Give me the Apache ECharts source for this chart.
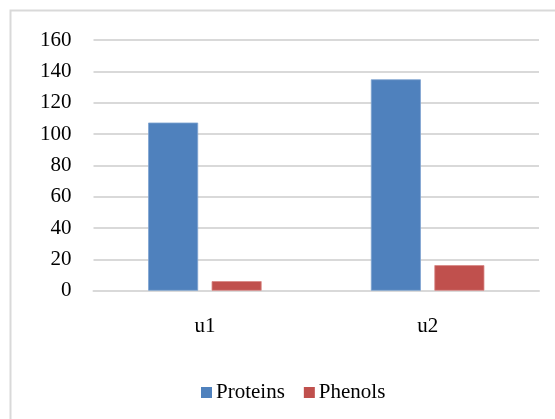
<!DOCTYPE html>
<html>
<head>
<meta charset="utf-8">
<script src="https://cdn.jsdelivr.net/npm/echarts@6/dist/echarts.min.js"></script>
<style>
  html, body { margin: 0; padding: 0; background: #fff; }
  #chart { width: 555px; height: 419px; }
</style>
</head>
<body>
<div id="chart"></div>
<script>
const categories = ['u1', 'u2'];
const proteins = [107.3, 134.9];
const phenols = [6.1, 16.3];
const seriesNames = ['Proteins', 'Phenols'];
const yTicks = { min: 0, max: 160, interval: 20 };

const font = '"Liberation Serif", "Times New Roman", serif';
const chart = echarts.init(document.getElementById('chart'), null, { renderer: 'canvas' });
chart.setOption({
  animation: false,
  backgroundColor: '#ffffff',
  graphic: [{
    type: 'rect',
    shape: { x: 10.5, y: 10.5, width: 700, height: 600 },
    style: { fill: 'none', stroke: '#d9d9d9', lineWidth: 2 },
    silent: true,
    z: -1
  }],
  grid: { left: 93.5, right: 16, top: 40, bottom: 128.3, containLabel: false },
  legend: {
    data: seriesNames,
    left: 196,
    top: 377,
    itemWidth: 11,
    itemHeight: 11,
    itemGap: 19,
    icon: 'rect',
    itemStyle: { borderWidth: 0 },
    textStyle: { fontFamily: font, fontSize: 21, color: '#000', padding: [0, 0, 0, -1] }
  },
  xAxis: {
    type: 'category',
    data: categories,
    axisLine: { show: true, lineStyle: { color: '#d9d9d9', width: 2 } },
    axisTick: { show: false },
    axisLabel: { fontFamily: font, fontSize: 21, color: '#000', margin: 25 }
  },
  yAxis: {
    type: 'value',
    min: yTicks.min,
    max: yTicks.max,
    interval: yTicks.interval,
    axisLine: { show: false },
    axisTick: { show: false },
    splitLine: { lineStyle: { color: '#d9d9d9', width: 2 } },
    axisLabel: { fontFamily: font, fontSize: 21, color: '#000', margin: 22 }
  },
  series: [
    {
      name: seriesNames[0], type: 'bar', data: proteins,
      barWidth: 50, barGap: '27%',
      itemStyle: { color: '#4f81bd', borderColor: '#7fa3d0', borderWidth: 0.8 }
    },
    {
      name: seriesNames[1], type: 'bar', data: phenols,
      barWidth: 50, barGap: '27%',
      itemStyle: { color: '#c0504d', borderColor: '#d88784', borderWidth: 0.8 }
    }
  ]
});
</script>
</body>
</html>
